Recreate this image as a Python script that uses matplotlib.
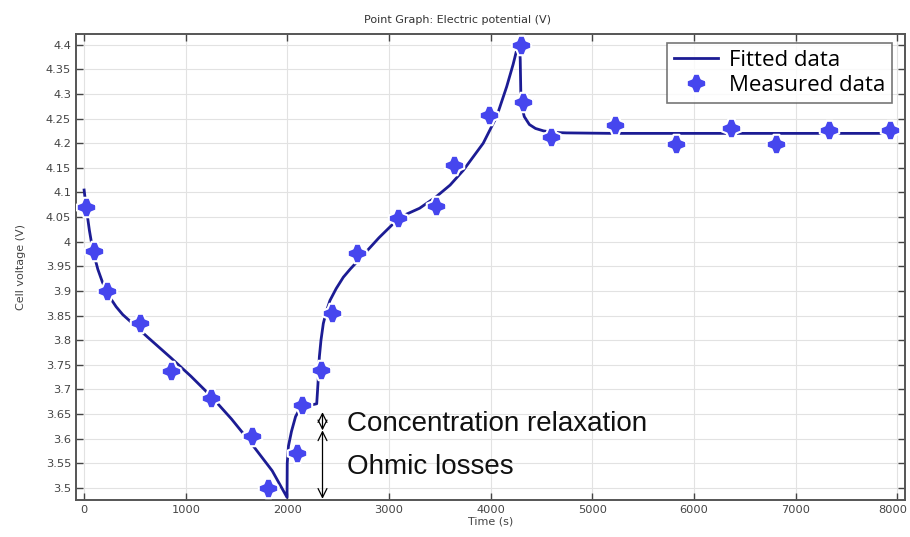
import matplotlib.pyplot as plt
import matplotlib.transforms as mtransforms
from matplotlib.path import Path

# fitted curve
fit_time = [0, 20, 52, 85, 135, 180, 216, 260, 315, 380, 445, 626, 850, 1050, 1250, 1450,
            1650, 1850, 1996,
            1998, 2010, 2040, 2080, 2124, 2200, 2288, 2300, 2314, 2330, 2353, 2385, 2419,
            2480, 2550, 2620, 2697, 2900, 3107, 3300, 3461, 3600, 3730, 3926, 4058, 4157,
            4220, 4255, 4282, 4290, 4296, 4304, 4330, 4380, 4440, 4520, 4620, 4746, 5201,
            6000, 7000, 7955]
fit_volt = [4.105, 4.07, 4.023, 3.983, 3.944, 3.918, 3.902, 3.885, 3.868, 3.852, 3.840,
            3.806, 3.765, 3.727, 3.686, 3.64, 3.589, 3.535, 3.481,
            3.55, 3.585, 3.615, 3.645, 3.662, 3.667, 3.671, 3.71, 3.766, 3.80, 3.834, 3.86,
            3.881, 3.905, 3.928, 3.945, 3.962, 4.008, 4.05, 4.068, 4.091, 4.115, 4.145,
            4.20, 4.254, 4.315, 4.36, 4.389, 4.403, 4.37, 4.30, 4.275, 4.254, 4.238, 4.23,
            4.225, 4.222, 4.221, 4.22, 4.22, 4.22, 4.22]

# measured points
meas_time = [20, 100, 225, 550, 855, 1250, 1650, 1810, 2095, 2145, 2330, 2440, 2685, 3090,
             3460, 3640, 3980, 4300, 4315, 4590, 5220, 5820, 6360, 6805, 7325, 7925]
meas_volt = [4.07, 3.981, 3.90, 3.835, 3.737, 3.682, 3.605, 3.50, 3.572, 3.668, 3.74, 3.855,
             3.977, 4.048, 4.072, 4.155, 4.257, 4.40, 4.283, 4.212, 4.237, 4.198, 4.231,
             4.198, 4.226, 4.227]

x_ticks = [0, 1000, 2000, 3000, 4000, 5000, 6000, 7000, 8000]
y_ticks = [3.5, 3.55, 3.6, 3.65, 3.7, 3.75, 3.8, 3.85, 3.9, 3.95, 4.0, 4.05, 4.1,
           4.15, 4.2, 4.25, 4.3, 4.35, 4.4]
y_tick_labels = ["3.5", "3.55", "3.6", "3.65", "3.7", "3.75", "3.8", "3.85", "3.9", "3.95",
                 "4", "4.05", "4.1", "4.15", "4.2", "4.25", "4.3", "4.35", "4.4"]

# four-lobed marker like the COMSOL point style
star = Path([(1, 0.3), (0.5, 0.5), (0.3, 1), (-0.3, 1), (-0.5, 0.5), (-1, 0.3),
             (-1, -0.3), (-0.5, -0.5), (-0.3, -1), (0.3, -1), (0.5, -0.5),
             (1, -0.3), (1, 0.3)])

fig = plt.figure(figsize=(9.10, 5.37), dpi=100)
ax = fig.add_axes([0.0835, 0.0689, 0.911, 0.8678])

ax.plot(fit_time, fit_volt, color="#1c1c94", linewidth=2.0, label="Fitted data", zorder=3)
ax.plot(meas_time, meas_volt, linestyle="none", marker=star, markersize=14,
        markerfacecolor="#4646ee", markeredgecolor="white", markeredgewidth=1.5,
        label="Measured data", zorder=4)

ax.set_xlim(-80, 8075)
ax.set_ylim(3.4756, 4.4218)
ax.set_xticks(x_ticks)
ax.set_yticks(y_ticks)
ax.set_yticklabels(y_tick_labels)
ax.tick_params(direction="in", length=5, width=1, colors="#444444", labelsize=8.2,
               top=True, right=True, labeltop=False, labelright=False)
ax.grid(True, color="#e2e2e2", linewidth=0.8)
ax.set_axisbelow(True)
for spine in ax.spines.values():
    spine.set_color("#555555")
    spine.set_linewidth(1.4)

# keep the last x label inside the figure
last_label = ax.get_xticklabels()[-1]
last_label.set_transform(last_label.get_transform()
                         + mtransforms.ScaledTranslation(-0.05, 0, fig.dpi_scale_trans))

ax.set_xlabel("Time (s)", fontsize=8, color="#444444", labelpad=1)
ax.set_ylabel("Cell voltage (V)", fontsize=8, color="#444444", labelpad=14)
fig.text(0.503, 0.962, "Point Graph: Electric potential (V)", ha="center", va="center",
         fontsize=8, color="#333333")

leg = ax.legend(loc="upper right", bbox_to_anchor=(0.99, 0.99), fancybox=False,
                frameon=True, prop={"family": "Open Sans", "size": 16},
                handlelength=2.0, handletextpad=0.5, borderpad=0.3, labelspacing=0.2,
                borderaxespad=0.2)
leg.get_frame().set_edgecolor("#555555")
leg.get_frame().set_linewidth(1.2)

# annotation arrows and labels
ax.annotate("", xy=(2345, 3.654), xytext=(2345, 3.617),
            arrowprops=dict(arrowstyle="<->", color="black", linewidth=0.9,
                            shrinkA=0, shrinkB=0, mutation_scale=16))
ax.annotate("", xy=(2345, 3.617), xytext=(2345, 3.478),
            arrowprops=dict(arrowstyle="<->", color="black", linewidth=0.9,
                            shrinkA=0, shrinkB=0, mutation_scale=16))
ax.text(2590, 3.629, "Concentration relaxation", family="Liberation Sans", fontsize=20,
        color="#111111", va="center", ha="left")
ax.text(2590, 3.542, "Ohmic losses", family="Liberation Sans", fontsize=20,
        color="#111111", va="center", ha="left")

fig.savefig("out.png", dpi=100)
